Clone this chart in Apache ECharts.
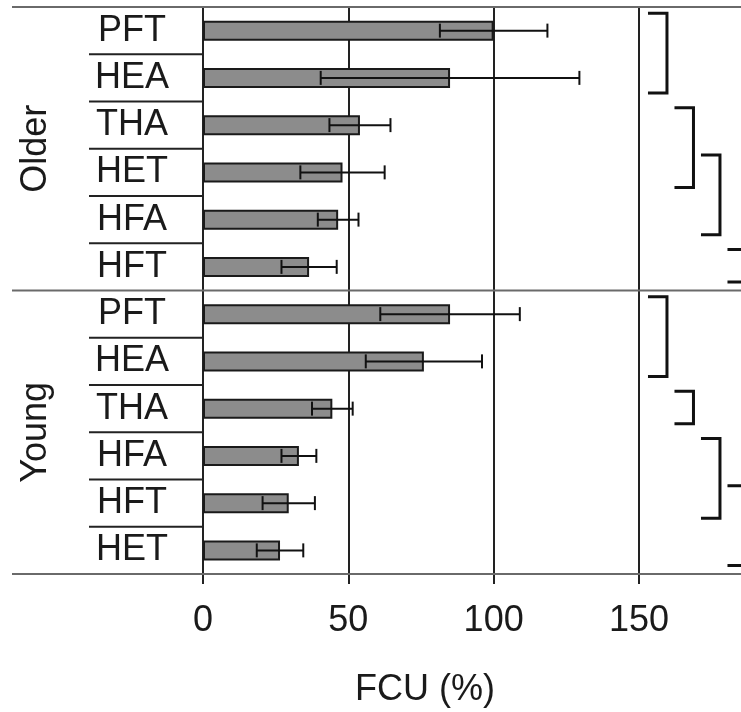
<!DOCTYPE html>
<html><head><meta charset="utf-8">
<script src="https://cdn.jsdelivr.net/npm/echarts@6/dist/echarts.min.js"></script>
<style>html,body{margin:0;padding:0;background:#fff}#c{width:741px;height:712px}</style>
</head><body><div id="c"></div>
<script>
// ---- data ----
const groupNames = ['Older', 'Young'];
const olderLabels = ['PFT', 'HEA', 'THA', 'HET', 'HFA', 'HFT'];
const youngLabels = ['PFT', 'HEA', 'THA', 'HFA', 'HFT', 'HET'];
const olderMean = [100, 85, 54, 48, 46.5, 36.5];
const olderSD = [18.5, 44.5, 10.5, 14.5, 7, 9.5];
const youngMean = [85, 76, 44.5, 33, 29.5, 26.5];
const youngSD = [24, 20, 7, 6, 9, 8];
const xTicks = [0, 50, 100, 150];
const axisTitle = 'FCU (%)';
// brackets: [first row, last row, column] within each group
const olderBrackets = [[0, 1, 0], [2, 3, 1], [3, 4, 2], [5, 5, 3]];
const youngBrackets = [[0, 1, 0], [2, 2, 1], [3, 4, 2], [4, 5, 3]];

// ---- build ----
const FONT = '"Liberation Sans", Arial, sans-serif';
const groups = [olderLabels, youngLabels];
const labels = olderLabels.concat(youngLabels);
const means = olderMean.concat(youngMean);
const errData = olderMean.map((m, i) => [m, i, olderSD[i]])
  .concat(youngMean.map((m, i) => [m, i + olderLabels.length, youngSD[i]]));
const bracketData = olderBrackets.map(b => [b[0], b[1], b[2]])
  .concat(youngBrackets.map(b => [b[0] + olderLabels.length, b[1] + olderLabels.length, b[2]]));

function geom(api) {
  const c0 = api.coord([0, 0]);
  const band = api.size([0, 1])[1];
  return { x0: c0[0], rowTop: i => c0[1] - band / 2 + i * band, band };
}

function renderFrame(params, api) {
  const g = geom(api);
  const children = [];
  let start = 0;
  const line = (x1, y1, x2, y2, color, w) => ({
    type: 'line', shape: { x1, y1, x2, y2 },
    style: { stroke: color, lineWidth: w }
  });
  groups.forEach((rows, gi) => {
    const end = start + rows.length;
    children.push(line(g.x0 - 191, g.rowTop(start), 800, g.rowTop(start), '#6a6a6a', 2));
    for (let k = start + 1; k < end; k++) {
      children.push(line(g.x0 - 114, g.rowTop(k), g.x0, g.rowTop(k), '#222', 2));
    }
    children.push({
      type: 'text', x: g.x0 - 167, y: (g.rowTop(start) + g.rowTop(end)) / 2,
      rotation: Math.PI / 2,
      style: { text: groupNames[gi], font: '36px ' + FONT, fill: '#1a1a1a', align: 'center', verticalAlign: 'middle' }
    });
    start = end;
  });
  children.push(line(g.x0 - 191, g.rowTop(start), 800, g.rowTop(start), '#6a6a6a', 2));
  return { type: 'group', children };
}

function renderErr(params, api) {
  const m = api.value(0), idx = api.value(1), sd = api.value(2);
  const lo = api.coord([m - sd, idx]);
  const hi = api.coord([m + sd, idx]);
  const h = 7;
  const st = { stroke: '#111', lineWidth: 2 };
  return {
    type: 'group', children: [
      { type: 'line', shape: { x1: lo[0], y1: lo[1], x2: hi[0], y2: hi[1] }, style: st },
      { type: 'line', shape: { x1: lo[0], y1: lo[1] - h, x2: lo[0], y2: lo[1] + h }, style: st },
      { type: 'line', shape: { x1: hi[0], y1: hi[1] - h, x2: hi[0], y2: hi[1] + h }, style: st }
    ]
  };
}

function renderBracket(params, api) {
  const g = geom(api);
  const from = api.value(0), to = api.value(1), col = api.value(2);
  const x150 = api.coord([150, 0])[0];
  const left = x150 + 9 + col * 26.5;
  const right = left + 19;
  const top = g.rowTop(from) + 0.13 * g.band;
  const bottom = g.rowTop(to + 1) - 0.18 * g.band;
  return {
    type: 'polyline',
    shape: { points: [[left, top], [right, top], [right, bottom], [left, bottom]] },
    style: { stroke: '#111', lineWidth: 3, fill: null }
  };
}

const chart = echarts.init(document.getElementById('c'), null, { renderer: 'canvas' });
chart.setOption({
  animation: false,
  backgroundColor: '#fff',
  grid: { left: 203, top: 7, right: -43.3, bottom: 138, containLabel: false, outerBoundsMode: 'none' },
  xAxis: {
    type: 'value', min: 0, max: 200, interval: 50,
    axisLine: { show: false },
    axisTick: { show: true, length: 10, lineStyle: { color: '#222', width: 2 } },
    splitLine: { show: true, lineStyle: { color: '#222', width: 2 } },
    axisLabel: {
      fontSize: 36, fontFamily: FONT, color: '#1a1a1a', margin: 29,
      formatter: v => (xTicks.indexOf(v) >= 0 ? String(v) : '')
    }
  },
  yAxis: {
    type: 'category', inverse: true, data: labels,
    axisLine: { show: true, lineStyle: { color: '#222', width: 2 } },
    axisTick: { show: false },
    splitLine: { show: false },
    axisLabel: { interval: 0, fontSize: 36, fontFamily: FONT, color: '#1a1a1a', align: 'center', margin: 71 }
  },
  graphic: [{
    type: 'text', x: 425, y: 690,
    style: { text: axisTitle, font: '36px ' + FONT, fill: '#1a1a1a', align: 'center', verticalAlign: 'middle' }
  }],
  series: [
    {
      type: 'custom', name: 'frame', data: [[0, 0]], encode: { x: 0, y: 1 },
      renderItem: renderFrame, z: 1, silent: true
    },
    {
      type: 'bar', data: means, barWidth: 20, z: 2,
      itemStyle: { color: '#8c8c8c', borderColor: '#1a1a1a', borderWidth: 2 }
    },
    {
      type: 'custom', name: 'sd', data: errData, encode: { x: 0, y: 1 },
      renderItem: renderErr, z: 3
    },
    {
      type: 'custom', name: 'brackets', data: bracketData, encode: { x: 2, y: [0, 1] },
      renderItem: renderBracket, z: 3
    }
  ]
});
</script>
</body></html>
